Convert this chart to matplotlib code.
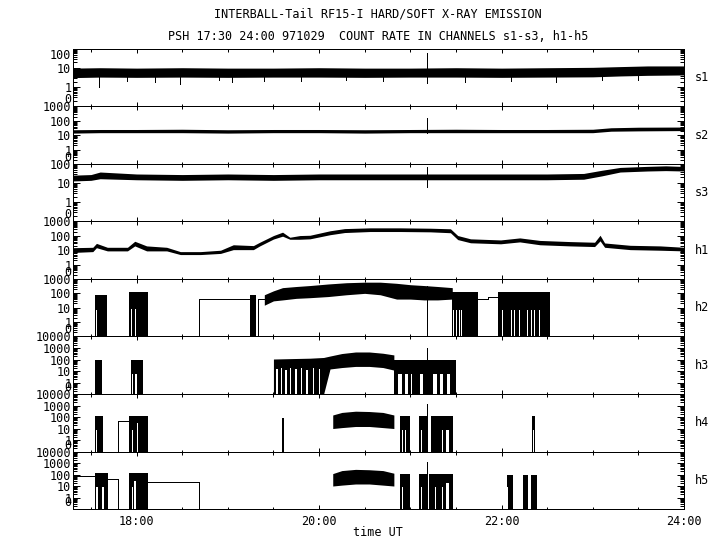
import numpy as np
import matplotlib
matplotlib.use('Agg')
import matplotlib.pyplot as plt
from matplotlib.ticker import FixedLocator, FixedFormatter

# ---- data (hours UT, counts) ----
panel_names = ['s1', 's2', 's3', 'h1', 'h2', 'h3', 'h4', 'h5']
panel_decades = [2, 3, 2, 3, 3, 4, 4, 4]
hour_ticks = [18, 20, 22, 24]
hour_labels = ['18:00', '20:00', '22:00', '24:00']

s1_t = [17.3, 17.6, 18.0, 18.5, 19.0, 19.5, 20.0, 20.5, 21.0, 21.5, 22.0, 22.5, 23.0, 23.3, 23.6, 24.0]
s1_lo = [3.2, 3.4, 3.3, 3.4, 3.3, 3.4, 3.4, 3.3, 3.4, 3.4, 3.3, 3.4, 3.5, 3.9, 4.2, 4.4]
s1_hi = [10, 10.5, 10, 10.5, 10, 10, 10.5, 10, 10, 10.5, 10, 10.5, 11, 12, 13, 13]
s1_dip_t = [17.59, 17.9, 18.2, 18.48, 18.9, 19.05, 19.4, 19.8, 20.3, 20.7, 21.6, 22.1, 22.6, 23.1, 23.5]
s1_dip_v = [1.0, 2.2, 2.0, 1.5, 2.3, 2.0, 2.2, 2.1, 2.3, 2.2, 1.9, 2.2, 2.0, 2.3, 2.5]
s1_spike = (21.18, 1.7, 60)

s2_t = [17.3, 17.6, 18.0, 18.5, 19.0, 19.5, 20.0, 20.5, 21.0, 21.5, 22.0, 22.5, 23.0, 23.2, 23.5, 24.0]
s2_lo = [14, 15, 15, 15, 14, 15, 15, 14, 15, 15, 15, 15, 15, 19, 20, 21]
s2_hi = [24, 25, 25, 26, 24, 25, 25, 24, 25, 26, 25, 25, 26, 33, 36, 37]
s2_spike = (21.18, 15, 150)

s3_t = [17.3, 17.5, 17.6, 18.0, 18.5, 19.0, 19.5, 20.0, 20.5, 21.0, 21.5, 22.0, 22.5, 22.9, 23.1, 23.3, 23.6, 23.8, 24.0]
s3_lo = [13, 14, 17, 15, 14, 15, 14, 15, 15, 15, 15, 15, 15, 16, 24, 38, 43, 45, 43]
s3_hi = [26, 28, 38, 30, 28, 30, 28, 30, 30, 30, 30, 30, 30, 32, 47, 66, 75, 80, 74]
s3_spike = (21.18, 6, 70)

h1_t = [17.3, 17.52, 17.56, 17.68, 17.9, 17.98, 18.11, 18.33, 18.48, 18.7, 18.92, 19.06, 19.28, 19.35,
        19.5, 19.6, 19.68, 19.79, 19.9, 20.12, 20.28, 20.56, 20.89, 21.22, 21.44, 21.52, 21.66,
        21.99, 22.2, 22.42, 22.75, 23.02, 23.08, 23.13, 23.41, 23.74, 24.0]
h1_lo = [7, 8, 15, 9, 9, 20, 9, 9, 5, 5, 6, 11, 11, 20,
         60, 95, 58, 58, 62, 120, 170, 200, 200, 190, 165, 55, 33,
         28, 38, 24, 20, 18, 45, 16, 11, 10, 9]
h1_hi = [15, 16, 30, 16, 16, 42, 20, 16, 8, 8, 10, 24, 21, 36,
         105, 180, 80, 105, 110, 225, 320, 360, 360, 340, 310, 105, 62,
         52, 72, 48, 40, 36, 110, 32, 22, 20, 16]

h2_band_t = [19.40, 19.50, 19.60, 19.75, 19.90, 20.10, 20.30, 20.50, 20.67, 20.85, 21.00, 21.15, 21.30, 21.46]
h2_band_lo = [15, 30, 35, 45, 50, 60, 80, 100, 80, 40, 40, 35, 35, 40]
h2_band_hi = [80, 150, 250, 300, 350, 450, 550, 600, 600, 500, 400, 350, 300, 250]
h2_bursts = [(17.544, 17.676, 80), (17.917, 18.12, 120), (19.243, 19.31, 80),
             (21.46, 21.74, 120), (21.96, 22.53, 130)]
h2_gaps = [(17.558, 17.570, 7), (17.94, 17.955, 8), (17.98, 17.995, 8),
           (21.47, 21.48, 7), (21.50, 21.51, 7), (21.535, 21.545, 7), (21.56, 21.57, 7),
           (22.005, 22.015, 7), (22.055, 22.065, 7), (22.10, 22.11, 7), (22.14, 22.15, 7),
           (22.19, 22.20, 7), (22.23, 22.24, 7), (22.28, 22.29, 7), (22.32, 22.33, 7),
           (22.36, 22.37, 7), (22.41, 22.42, 7), (22.45, 22.46, 7)]
h2_step_a_t = [18.684, 18.684, 19.243]
h2_step_a_v = [0, 40, 40]
h2_step_b_t = [19.335, 19.335, 19.40]
h2_step_b_v = [0, 38, 38]
h2_step_c_t = [21.74, 21.85, 21.85, 21.96]
h2_step_c_v = [40, 40, 60, 60]
h2_drop = (21.18, 0, 350)

h3_band_t = [19.50, 19.70, 19.90, 20.05, 20.12, 20.25, 20.40, 20.55, 20.70, 20.82]
h3_band_lo = [0, 0, 0, 0, 15, 20, 25, 25, 20, 12]
h3_band_hi = [110, 120, 130, 150, 200, 330, 450, 450, 350, 250]
h3_bursts = [(17.544, 17.617, 100), (17.94, 18.07, 100), (20.82, 21.50, 90)]
h3_gaps = [(17.95, 17.96, 6), (17.985, 18.0, 6),
           (19.53, 19.545, 15), (19.58, 19.59, 20), (19.63, 19.645, 12), (19.68, 19.69, 20),
           (19.74, 19.755, 15), (19.80, 19.81, 20), (19.86, 19.875, 12), (19.93, 19.94, 20),
           (20.00, 20.015, 15), (20.06, 20.07, 20),
           (20.87, 20.91, 6), (20.94, 20.97, 6), (21.01, 21.02, 6), (21.11, 21.14, 6),
           (21.25, 21.29, 6), (21.33, 21.36, 6), (21.40, 21.44, 6)]
h3_spike = (21.18, 0, 1000)

h4_band_t = [20.15, 20.25, 20.40, 20.55, 20.70, 20.82]
h4_band_lo = [10, 12, 15, 15, 12, 10]
h4_band_hi = [150, 250, 320, 300, 250, 150]
h4_bursts = [(17.544, 17.63, 120), (17.92, 18.12, 130), (19.59, 19.62, 90),
             (20.887, 20.997, 130), (21.095, 21.18, 130), (21.227, 21.47, 130), (22.33, 22.37, 120)]
h4_gaps = [(17.56, 17.57, 7), (17.95, 17.965, 7), (18.0, 18.02, 30),
           (20.905, 20.915, 7), (20.945, 20.955, 7), (21.12, 21.13, 7), (21.255, 21.265, 7),
           (21.345, 21.355, 7), (21.39, 21.42, 7), (22.345, 22.352, 7)]
h4_step_t = [17.796, 17.796, 17.92]
h4_step_v = [0, 45, 45]
h4_spike = (21.18, 0, 1300)

h5_band_t = [20.15, 20.25, 20.40, 20.55, 20.70, 20.82]
h5_band_lo = [10, 12, 15, 15, 12, 10]
h5_band_hi = [120, 220, 280, 260, 220, 130]
h5_bursts = [(17.544, 17.687, 135), (17.92, 18.12, 125), (20.887, 20.997, 110), (21.095, 21.18, 110),
             (21.20, 21.47, 110), (22.06, 22.125, 100), (22.24, 22.29, 100), (22.32, 22.39, 100)]
h5_gaps = [(17.56, 17.575, 9), (17.625, 17.64, 9), (17.945, 17.96, 9), (17.975, 17.995, 25),
           (20.91, 20.925, 8), (21.12, 21.13, 8), (21.27, 21.28, 8), (21.35, 21.36, 8),
           (21.39, 21.42, 20), (22.065, 22.072, 8)]
h5_line_a_t = [17.3, 17.544]
h5_line_a_v = [74, 74]
h5_step_b_t = [17.687, 17.796, 17.796]
h5_step_b_v = [40, 40, 0]
h5_step_c_t = [18.12, 18.684, 18.684]
h5_step_c_v = [22, 22, 0]
h5_spike = (21.18, 0, 1300)

title1 = 'INTERBALL-Tail RF15-I HARD/SOFT X-RAY EMISSION'
title2 = 'PSH 17:30 24:00 971029  COUNT RATE IN CHANNELS s1-s3, h1-h5'


def lg(v):
    # gnuplot-style log axis where 0 sits one decade below 1
    return np.log10(np.maximum(np.asarray(v, dtype=float), 0.1))


bands = {
    's1': [(s1_t, s1_lo, s1_hi)], 's2': [(s2_t, s2_lo, s2_hi)], 's3': [(s3_t, s3_lo, s3_hi)],
    'h1': [(h1_t, h1_lo, h1_hi)], 'h2': [(h2_band_t, h2_band_lo, h2_band_hi)],
    'h3': [(h3_band_t, h3_band_lo, h3_band_hi)], 'h4': [(h4_band_t, h4_band_lo, h4_band_hi)],
    'h5': [(h5_band_t, h5_band_lo, h5_band_hi)],
}
bursts = {'h2': h2_bursts, 'h3': h3_bursts, 'h4': h4_bursts, 'h5': h5_bursts}
gaps = {'h2': h2_gaps, 'h3': h3_gaps, 'h4': h4_gaps, 'h5': h5_gaps}
lines = {
    'h2': [(h2_step_a_t, h2_step_a_v), (h2_step_b_t, h2_step_b_v), (h2_step_c_t, h2_step_c_v)],
    'h4': [(h4_step_t, h4_step_v)],
    'h5': [(h5_line_a_t, h5_line_a_v), (h5_step_b_t, h5_step_b_v), (h5_step_c_t, h5_step_c_v)],
}
spikes = {'s1': [s1_spike], 's2': [s2_spike], 's3': [s3_spike], 'h2': [h2_drop],
          'h3': [h3_spike], 'h4': [h4_spike], 'h5': [h5_spike]}

plt.rcParams['font.family'] = ['DejaVu Sans Mono']
plt.rcParams['font.size'] = 8.5
plt.rcParams['lines.antialiased'] = False
plt.rcParams['patch.antialiased'] = False

fig, axes = plt.subplots(8, 1, sharex=True, figsize=(7.2, 5.5), dpi=100)
fig.subplots_adjust(left=0.101, right=0.95, top=0.911, bottom=0.0745, hspace=0)

ylabels_all = ['0', '1', '10', '100', '1000', '10000']
LW = 0.72   # one pixel

for i, (ax, name, ndec) in enumerate(zip(axes, panel_names, panel_decades)):
    for t, lo, hi in bands.get(name, []):
        ax.fill_between(t, lg(lo), lg(hi), color='k', lw=0, zorder=2)
    for t0, t1, top in bursts.get(name, []):
        ax.fill_between([t0, t1], [-1, -1], lg([top, top]), color='k', lw=0, zorder=2)
    for t0, t1, lev in gaps.get(name, []):
        ax.fill_between([t0, t1], [-1, -1], lg([lev, lev]), color='white', lw=0, zorder=2.1)
    for t, v in lines.get(name, []):
        ax.plot(t, lg(v), color='k', lw=LW, zorder=2)
    for t, lo, hi in spikes.get(name, []):
        ax.vlines(t, lg(lo), lg(hi), color='k', lw=LW, zorder=2.2)
    if name == 's1':
        ax.vlines(s1_dip_t, lg(4), lg(s1_dip_v), color='k', lw=LW, zorder=2)

    ax.set_ylim(-1, ndec)
    ax.yaxis.set_major_locator(FixedLocator(list(range(-1, ndec + 1))))
    ax.yaxis.set_major_formatter(FixedFormatter(ylabels_all[:ndec + 2]))
    minors = [d + np.log10(k) for d in range(-1, ndec) for k in range(2, 10)]
    ax.yaxis.set_minor_locator(FixedLocator(minors))
    ax.tick_params(axis='y', which='major', direction='in', length=5, width=LW,
                   left=True, right=True, pad=1)
    ax.tick_params(axis='y', which='minor', direction='in', length=2.8, width=LW,
                   left=True, right=True)
    ax.tick_params(axis='x', which='major', direction='in', length=3.2, width=LW,
                   top=True, bottom=True, pad=4)
    ax.tick_params(axis='x', which='minor', direction='in', length=1.8, width=LW,
                   top=True, bottom=True)
    for sp in ax.spines.values():
        sp.set_linewidth(LW)
    # the "0" label sits just above its tick, as in the original
    ax.yaxis.get_major_ticks()[0].label1.set_verticalalignment('bottom')
    if i == 0:
        ax.yaxis.get_major_ticks()[-1].label1.set_verticalalignment('top')
    ax.text(1.018, 0.5, name, transform=ax.transAxes, ha='left', va='center')

ax = axes[-1]
ax.set_xlim(17.3, 24)
ax.xaxis.set_major_locator(FixedLocator(hour_ticks))
ax.xaxis.set_major_formatter(FixedFormatter(hour_labels))
ax.xaxis.set_minor_locator(FixedLocator([17.5, 18.5, 19, 19.5, 20.5, 21, 21.5, 22.5, 23, 23.5]))

fig.text(0.525, 1 - 14 / 550, title1, ha='center', va='center')
fig.text(0.525, 1 - 36 / 550, title2, ha='center', va='center')
fig.text(0.525, 1 - 533 / 550, 'time UT', ha='center', va='center')

fig.savefig('out.png', dpi=100)
